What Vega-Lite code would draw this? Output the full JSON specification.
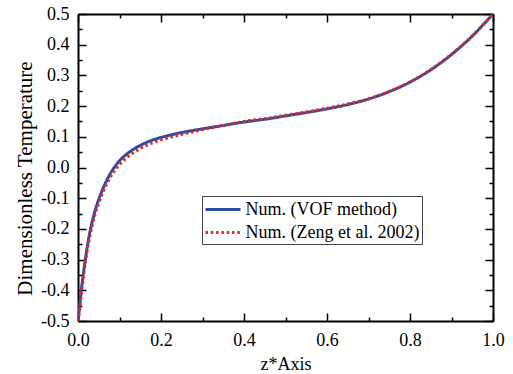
{
  "$schema": "https://vega.github.io/schema/vega-lite/v6.json",
  "autosize": "none",
  "width": 415,
  "height": 307,
  "padding": {"left": 78, "top": 14, "right": 20, "bottom": 53},
  "background": "white",
  "config": {
    "font": "Liberation Serif",
    "view": {"stroke": null},
    "axis": {
      "domainColor": "black", "domainWidth": 2,
      "tickColor": "black", "tickWidth": 1.5,
      "labelFont": "Liberation Serif", "labelFontSize": 18, "labelColor": "black",
      "titleFont": "Liberation Serif", "titleFontWeight": "normal", "titleColor": "black",
      "grid": false, "labelFlush": false, "labelOverlap": false
    }
  },
  "datasets": {
    "vof": [
      {"x": 0, "y": -0.5, "s": "Num. (VOF method)"}, {"x": 0.004, "y": -0.45, "s": "Num. (VOF method)"},
      {"x": 0.008, "y": -0.4, "s": "Num. (VOF method)"}, {"x": 0.012, "y": -0.355, "s": "Num. (VOF method)"},
      {"x": 0.016, "y": -0.315, "s": "Num. (VOF method)"}, {"x": 0.02, "y": -0.278, "s": "Num. (VOF method)"},
      {"x": 0.025, "y": -0.237, "s": "Num. (VOF method)"}, {"x": 0.03, "y": -0.202, "s": "Num. (VOF method)"},
      {"x": 0.035, "y": -0.172, "s": "Num. (VOF method)"}, {"x": 0.04, "y": -0.146, "s": "Num. (VOF method)"},
      {"x": 0.05, "y": -0.104, "s": "Num. (VOF method)"}, {"x": 0.06, "y": -0.069, "s": "Num. (VOF method)"},
      {"x": 0.07, "y": -0.04, "s": "Num. (VOF method)"}, {"x": 0.08, "y": -0.015, "s": "Num. (VOF method)"},
      {"x": 0.09, "y": 0.005, "s": "Num. (VOF method)"}, {"x": 0.1, "y": 0.022, "s": "Num. (VOF method)"},
      {"x": 0.115, "y": 0.041, "s": "Num. (VOF method)"}, {"x": 0.13, "y": 0.056, "s": "Num. (VOF method)"},
      {"x": 0.15, "y": 0.072, "s": "Num. (VOF method)"}, {"x": 0.175, "y": 0.087, "s": "Num. (VOF method)"},
      {"x": 0.2, "y": 0.098, "s": "Num. (VOF method)"}, {"x": 0.233, "y": 0.109, "s": "Num. (VOF method)"},
      {"x": 0.27, "y": 0.119, "s": "Num. (VOF method)"}, {"x": 0.3, "y": 0.126, "s": "Num. (VOF method)"},
      {"x": 0.35, "y": 0.137, "s": "Num. (VOF method)"}, {"x": 0.4, "y": 0.148, "s": "Num. (VOF method)"},
      {"x": 0.46, "y": 0.159, "s": "Num. (VOF method)"}, {"x": 0.5, "y": 0.168, "s": "Num. (VOF method)"},
      {"x": 0.55, "y": 0.179, "s": "Num. (VOF method)"}, {"x": 0.6, "y": 0.191, "s": "Num. (VOF method)"},
      {"x": 0.65, "y": 0.205, "s": "Num. (VOF method)"}, {"x": 0.7, "y": 0.223, "s": "Num. (VOF method)"},
      {"x": 0.75, "y": 0.247, "s": "Num. (VOF method)"}, {"x": 0.8, "y": 0.278, "s": "Num. (VOF method)"},
      {"x": 0.85, "y": 0.318, "s": "Num. (VOF method)"}, {"x": 0.9, "y": 0.368, "s": "Num. (VOF method)"},
      {"x": 0.95, "y": 0.428, "s": "Num. (VOF method)"}, {"x": 1.0, "y": 0.5, "s": "Num. (VOF method)"}
    ],
    "zeng": [
      {"x": 0, "y": -0.5, "s": "Num. (Zeng et al. 2002)"}, {"x": 0.004, "y": -0.462, "s": "Num. (Zeng et al. 2002)"},
      {"x": 0.008, "y": -0.412, "s": "Num. (Zeng et al. 2002)"}, {"x": 0.012, "y": -0.367, "s": "Num. (Zeng et al. 2002)"},
      {"x": 0.016, "y": -0.327, "s": "Num. (Zeng et al. 2002)"}, {"x": 0.02, "y": -0.29, "s": "Num. (Zeng et al. 2002)"},
      {"x": 0.025, "y": -0.249, "s": "Num. (Zeng et al. 2002)"}, {"x": 0.03, "y": -0.214, "s": "Num. (Zeng et al. 2002)"},
      {"x": 0.035, "y": -0.184, "s": "Num. (Zeng et al. 2002)"}, {"x": 0.04, "y": -0.158, "s": "Num. (Zeng et al. 2002)"},
      {"x": 0.05, "y": -0.116, "s": "Num. (Zeng et al. 2002)"}, {"x": 0.06, "y": -0.081, "s": "Num. (Zeng et al. 2002)"},
      {"x": 0.07, "y": -0.052, "s": "Num. (Zeng et al. 2002)"}, {"x": 0.08, "y": -0.027, "s": "Num. (Zeng et al. 2002)"},
      {"x": 0.09, "y": -0.007, "s": "Num. (Zeng et al. 2002)"}, {"x": 0.1, "y": 0.01, "s": "Num. (Zeng et al. 2002)"},
      {"x": 0.115, "y": 0.029, "s": "Num. (Zeng et al. 2002)"}, {"x": 0.13, "y": 0.045, "s": "Num. (Zeng et al. 2002)"},
      {"x": 0.15, "y": 0.062, "s": "Num. (Zeng et al. 2002)"}, {"x": 0.175, "y": 0.078, "s": "Num. (Zeng et al. 2002)"},
      {"x": 0.2, "y": 0.09, "s": "Num. (Zeng et al. 2002)"}, {"x": 0.233, "y": 0.102, "s": "Num. (Zeng et al. 2002)"},
      {"x": 0.27, "y": 0.114, "s": "Num. (Zeng et al. 2002)"}, {"x": 0.3, "y": 0.123, "s": "Num. (Zeng et al. 2002)"},
      {"x": 0.35, "y": 0.137, "s": "Num. (Zeng et al. 2002)"}, {"x": 0.4, "y": 0.15, "s": "Num. (Zeng et al. 2002)"},
      {"x": 0.46, "y": 0.161, "s": "Num. (Zeng et al. 2002)"}, {"x": 0.5, "y": 0.17, "s": "Num. (Zeng et al. 2002)"},
      {"x": 0.55, "y": 0.181, "s": "Num. (Zeng et al. 2002)"}, {"x": 0.6, "y": 0.193, "s": "Num. (Zeng et al. 2002)"},
      {"x": 0.65, "y": 0.207, "s": "Num. (Zeng et al. 2002)"}, {"x": 0.7, "y": 0.224, "s": "Num. (Zeng et al. 2002)"},
      {"x": 0.75, "y": 0.248, "s": "Num. (Zeng et al. 2002)"}, {"x": 0.8, "y": 0.279, "s": "Num. (Zeng et al. 2002)"},
      {"x": 0.85, "y": 0.319, "s": "Num. (Zeng et al. 2002)"}, {"x": 0.9, "y": 0.369, "s": "Num. (Zeng et al. 2002)"},
      {"x": 0.95, "y": 0.429, "s": "Num. (Zeng et al. 2002)"}, {"x": 1.0, "y": 0.5, "s": "Num. (Zeng et al. 2002)"}
    ]
  },
  "layer": [
    {
      "data": {"name": "vof"},
      "mark": {"type": "line", "strokeWidth": 3, "interpolate": "monotone", "clip": true},
      "encoding": {
        "x": {"field": "x", "type": "quantitative",
          "scale": {"domain": [0, 1], "nice": false},
          "axis": {"orient": "bottom", "title": "z*Axis", "titleFontSize": 18,
            "titleBaseline": "alphabetic", "titleY": 48,
            "values": [0, 0.1, 0.2, 0.3, 0.4, 0.5, 0.6, 0.7, 0.8, 0.9, 1.0],
            "labelExpr": "abs(datum.value*5 - round(datum.value*5)) < 0.001 ? format(datum.value, '.1f') : ''",
            "tickSize": {"condition": {"test": "abs(datum.value*5 - round(datum.value*5)) < 0.001", "value": -8}, "value": -4},
            "labelPadding": 18}},
        "y": {"field": "y", "type": "quantitative",
          "scale": {"domain": [-0.5, 0.5], "nice": false},
          "axis": {"orient": "left", "title": "Dimensionless Temperature", "titleFontSize": 21,
            "titleAngle": -90, "titleBaseline": "alphabetic", "titleAlign": "center",
            "titleX": -47, "titleY": 164,
            "values": [-0.5, -0.45, -0.4, -0.35, -0.3, -0.25, -0.2, -0.15, -0.1, -0.05, 0, 0.05, 0.1, 0.15, 0.2, 0.25, 0.3, 0.35, 0.4, 0.45, 0.5],
            "labelExpr": "abs(datum.value*10 - round(datum.value*10)) < 0.001 ? replace(format(datum.value, '.1f'), '\u2212', '-') : ''",
            "tickSize": {"condition": {"test": "abs(datum.value*10 - round(datum.value*10)) < 0.001", "value": -8}, "value": -4},
            "labelPadding": 17}},
        "color": {"field": "s", "type": "nominal",
          "scale": {"domain": ["Num. (VOF method)", "Num. (Zeng et al. 2002)"], "range": ["#2b4e9e", "#e3262b"]},
          "legend": {"title": null, "orient": "none", "legendX": 124, "legendY": 182,
            "symbolType": "M-1.75,0H1.75", "symbolSize": 400, "symbolStrokeWidth": 3,
            "symbolOffset": 7.5,
            "labelFont": "Liberation Serif", "labelFontSize": 18, "labelColor": "black", "labelOffset": 11,
            "labelLimit": 400,
            "strokeColor": "#444", "padding": 2, "rowPadding": 2, "fillColor": "white"}},
        "strokeDash": {"field": "s", "type": "nominal",
          "scale": {"domain": ["Num. (VOF method)", "Num. (Zeng et al. 2002)"], "range": [[1, 0], [2.5, 2.8]]},
          "legend": {"title": null}}
      }
    },
    {
      "data": {"name": "zeng"},
      "mark": {"type": "line", "strokeWidth": 3, "interpolate": "monotone", "clip": true},
      "encoding": {
        "x": {"field": "x", "type": "quantitative",
          "axis": {"orient": "top", "title": null, "labels": false,
            "values": [0, 0.1, 0.2, 0.3, 0.4, 0.5, 0.6, 0.7, 0.8, 0.9, 1.0],
            "tickSize": {"condition": {"test": "abs(datum.value*5 - round(datum.value*5)) < 0.001", "value": -8}, "value": -4}}},
        "y": {"field": "y", "type": "quantitative",
          "axis": {"orient": "right", "title": null, "labels": false,
            "values": [-0.5, -0.45, -0.4, -0.35, -0.3, -0.25, -0.2, -0.15, -0.1, -0.05, 0, 0.05, 0.1, 0.15, 0.2, 0.25, 0.3, 0.35, 0.4, 0.45, 0.5],
            "tickSize": {"condition": {"test": "abs(datum.value*10 - round(datum.value*10)) < 0.001", "value": -8}, "value": -4}}},
        "color": {"field": "s", "type": "nominal"},
        "strokeDash": {"field": "s", "type": "nominal"}
      }
    }
  ],
  "resolve": {"axis": {"x": "independent", "y": "independent"}}
}
